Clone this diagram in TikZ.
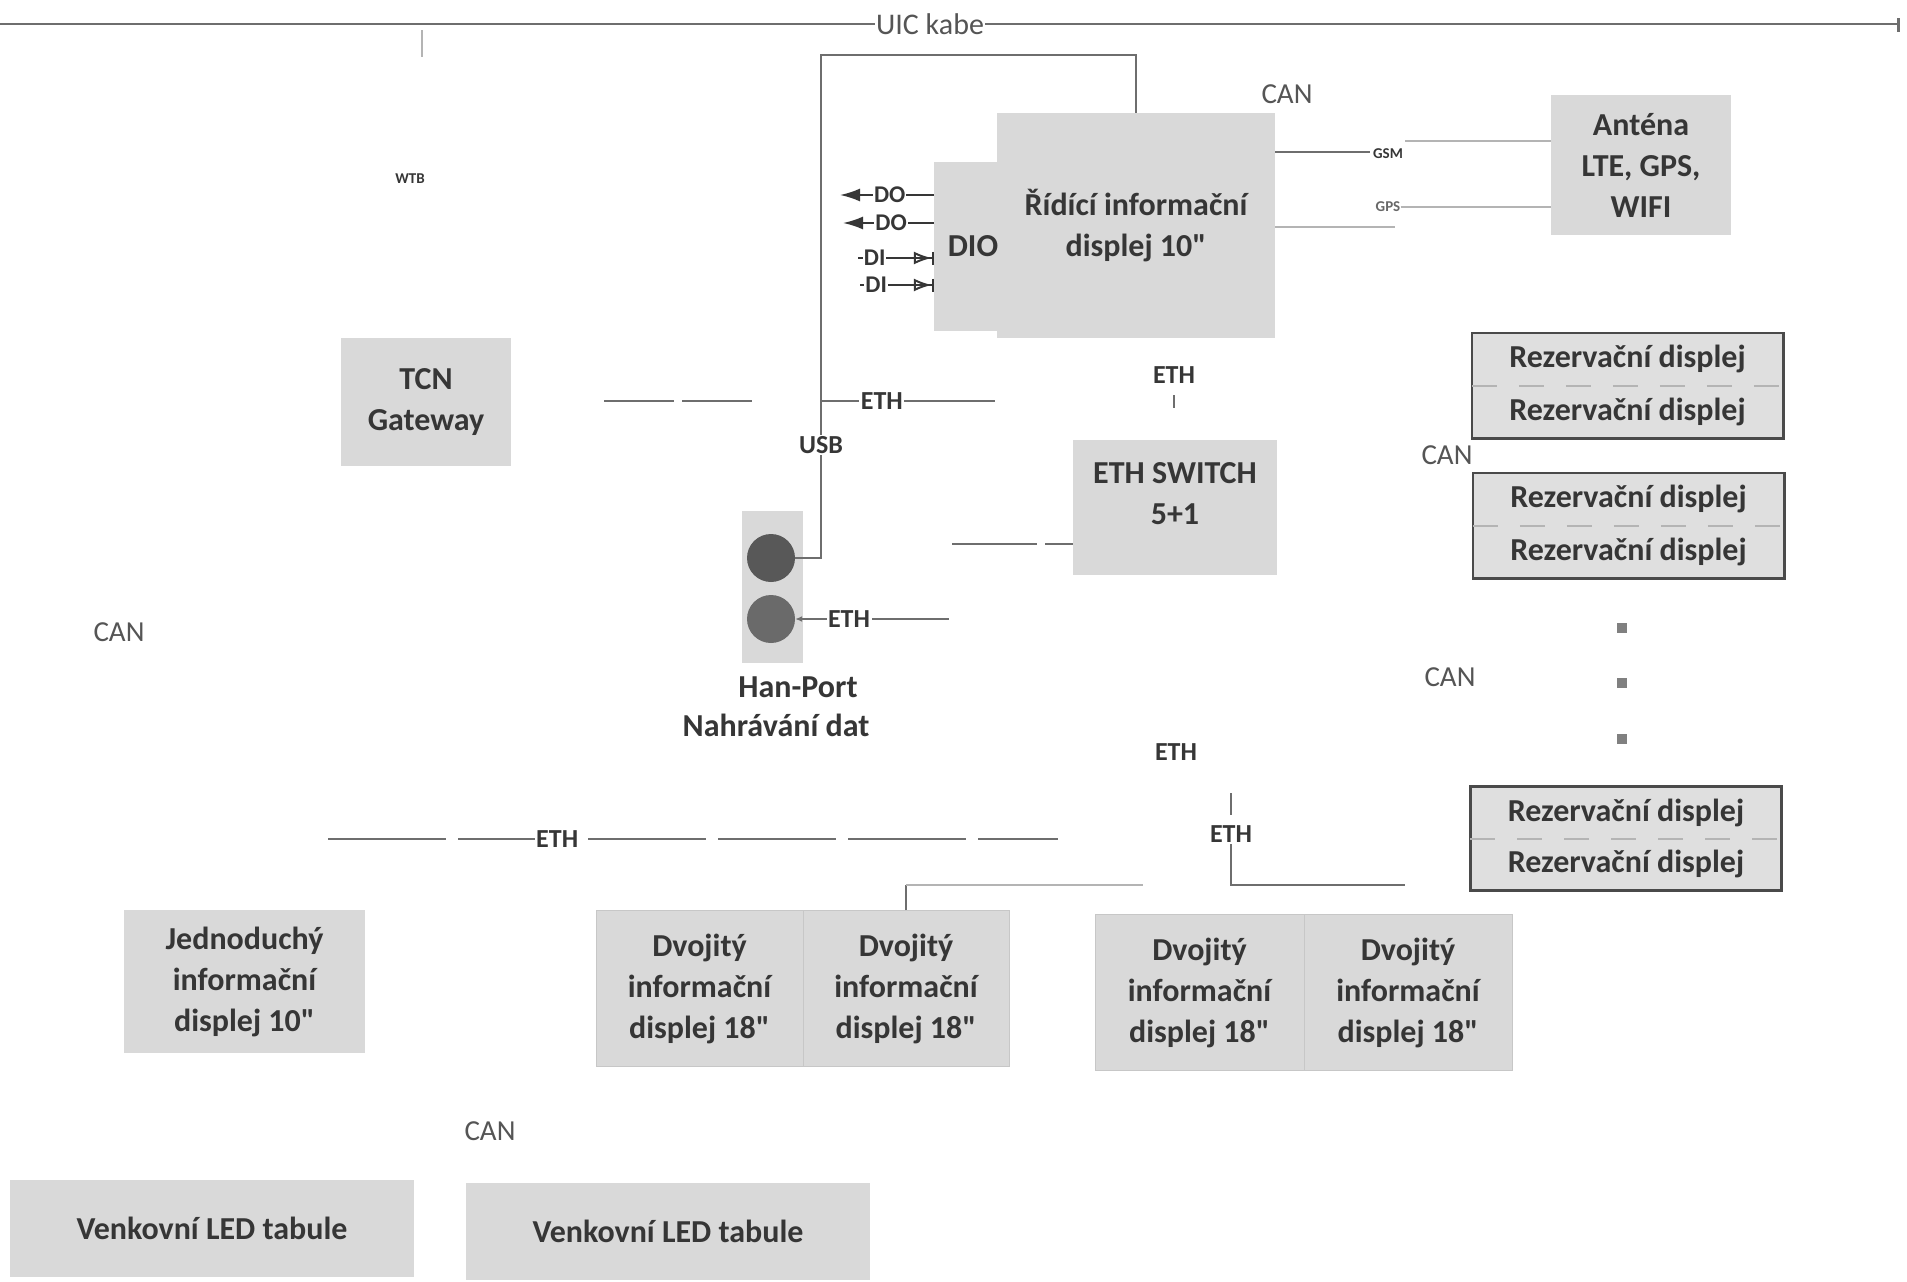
\documentclass[tikz,border=0pt]{standalone}
\usepackage{fontspec}
\setmainfont{Carlito}[Ligatures=TeXOff]
\usetikzlibrary{arrows.meta}
\definecolor{boxgray}{HTML}{D9D9D9}
\definecolor{txt}{HTML}{363636}
\definecolor{wiregray}{HTML}{6E6E6E}
\definecolor{faintgray}{HTML}{B4B4B4}
\definecolor{cangray}{HTML}{555555}
\definecolor{hpdark}{HTML}{585858}
\definecolor{hpmid}{HTML}{6A6A6A}
\begin{document}
\begin{tikzpicture}[x=1pt,y=-1pt,
 box/.style={fill=boxgray, text=txt, font=\bfseries\fontsize{32}{41}\selectfont, align=center, inner sep=0pt, anchor=center},
 boxtext/.style={text=txt, font=\bfseries\fontsize{32}{41}\selectfont, align=center, inner sep=0pt},
 dvbox/.style={box, draw=black!22, line width=1pt, minimum height=156pt},
 wire/.style={draw=wiregray, line width=1.6pt},
 iowire/.style={draw=txt, line width=2pt},
 thinwire/.style={draw=wiregray, line width=1.2pt},
 faint/.style={draw=faintgray, line width=1.6pt},
 lbl/.style={fill=white, text=txt, font=\bfseries\fontsize{26}{28}\selectfont, inner sep=1.5pt},
 can/.style={text=cangray, font=\fontsize{29}{32}\selectfont, inner sep=0pt},
 tiny/.style={text=txt, font=\bfseries\fontsize{15}{16}\selectfont, inner sep=0pt},
 io/.style={fill=white, text=txt, font=\bfseries\fontsize{24}{26}\selectfont, inner sep=1pt},
 rez/.style={fill=boxgray!85, text=txt, font=\bfseries\fontsize{32}{36}\selectfont, inner sep=0pt, minimum width=311pt, minimum height=52.5pt},
 rezframe/.style={draw=txt!90, line width=2.6pt},
 dotsq/.style={fill=black!50, minimum size=10pt, inner sep=0pt},
]
\useasboundingbox[fill=white] (0,0) rectangle (1907,1282);

% UIC cable
\coordinate (uicL) at (0,24);
\coordinate (uicR) at (1898,24);
\draw[wire] (uicL) -- node[pos=0.49, fill=white, text=cangray, font=\fontsize{30}{32}\selectfont, inner sep=1pt] (uic) {UIC kabe} (uicR);
\coordinate (uicR1) at (1898,18);
\coordinate (uicR2) at (1898,32);
\draw[wire, line width=3pt] (uicR1) -- (uicR2);
\coordinate (wtbT) at (422,30);
\coordinate (wtbB) at (422,57);
\draw[faint] (wtbT) -- (wtbB);
\node[tiny] (wtb) at (410,179) {WTB};

% Control display and DIO
\node[box, minimum width=278pt, minimum height=225pt] (main) at (1136,225.5) {Řídící informační\\displej 10"};
\node[box, minimum width=78pt, minimum height=169pt] (dio) at (973,246.5) {DIO};

\coordinate (do1) at (840,195);
\coordinate (do2) at (843,223);
\coordinate (di1) at (858,258);
\coordinate (di2) at (860,285);
\draw[iowire, -{Latex[length=20pt,width=13pt]}] (dio.west |- do1) -- node[io,pos=0.47]{DO} (do1);
\draw[iowire, -{Latex[length=20pt,width=13pt]}] (dio.west |- do2) -- node[io,pos=0.47]{DO} (do2);
\draw[iowire, -{Latex[open,length=18pt,width=13pt]Bar[width=13pt]}] (di1) -- node[io,pos=0.22]{DI} (dio.west |- di1);
\draw[iowire, -{Latex[open,length=18pt,width=13pt]Bar[width=13pt]}] (di2) -- node[io,pos=0.22]{DI} (dio.west |- di2);

\node[can] (can1) at (1287,94) {CAN};

% Antenna
\node[box, minimum width=180pt, minimum height=140pt] (ant) at (1641,165) {Anténa\\LTE, GPS,\\WIFI};
\coordinate (gsmA) at (1370,152);
\draw[wire] (main.east |- gsmA) -- (gsmA);
\node[tiny] (gsm) at (1388,154) {GSM};
\coordinate (gsmB) at (1405,141);
\draw[faint] (gsmB) -- (gsmB -| ant.west);
\node[tiny, text=txt!75] (gps) at (1388,207) {GPS};
\draw[faint] (gps.east) -- (gps.east -| ant.west);
\coordinate (gpsA) at (1395,227);
\draw[faint] (main.east |- gpsA) -- (gpsA);

% TCN gateway
\node[box, minimum width=170pt, minimum height=128pt] (tcn) at (426,402) {TCN\\Gateway};

% ETH bus 1 and USB
\coordinate (e1a) at (604,401);
\coordinate (e1b) at (754,401);
\draw[wire, dash pattern=on 70pt off 8pt] (e1a) -- (e1b);
\coordinate (e1c) at (821,401);
\coordinate (e1d) at (995,401);
\draw[wire] (e1c) -- node[lbl, pos=0.35]{ETH} (e1d);
\node[lbl] (usb) at (821,445) {USB};
\coordinate (usbTop) at (821,55);
\draw[thinwire] (usb.north) -- (usbTop) -- (usbTop -| main) -- (main.north);

% Han-Port
\node[fill=boxgray, minimum width=61pt, minimum height=152pt, inner sep=0pt] (hp) at (772.5,587) {};
\node[circle, fill=hpdark, minimum size=48pt, inner sep=0pt] (hp1) at (771,558) {};
\node[circle, fill=hpmid, minimum size=48pt, inner sep=0pt] (hp2) at (771,619) {};
\draw[wire] (usb.south) |- (hp1.east);
\coordinate (hpE) at (949,619);
\draw[wire, {Latex[length=7pt,width=6pt]}-] (hp2.east) -- node[lbl, pos=0.35]{ETH} (hpE);
\node[boxtext] (hpt1) at (798,687) {Han-Port};
\node[boxtext] (hpt2) at (776,725) {Nahrávání dat};

\node[can] (can2) at (119,632) {CAN};

% ETH switch
\node[box, minimum width=204pt, minimum height=135pt] (sw) at (1175,507.5) {};
\node[boxtext] (swt) at (1175,494) {ETH SWITCH\\5+1};
\node[lbl] (ethsw) at (1174,375) {ETH};
\coordinate (t1) at (1174,395);
\coordinate (t2) at (1174,408);
\draw[wire] (t1) -- (t2);
\coordinate (swL) at (952,544);
\draw[wire, dash pattern=on 85pt off 8pt] (swL) -- (swL -| sw.west);

% Reservation displays
\node[rez] (r1a) at (1627.5,359.25) {Rezervační displej};
\node[rez] (r1b) at (1627.5,411.75) {Rezervační displej};
\draw[rezframe] (r1a.north west) rectangle (r1b.south east);
\draw[faint, dash pattern=on 25pt off 22pt] (r1a.south west) -- (r1a.south east);
\node[rez] (r2a) at (1628.5,499.25) {Rezervační displej};
\node[rez] (r2b) at (1628.5,551.75) {Rezervační displej};
\draw[rezframe] (r2a.north west) rectangle (r2b.south east);
\draw[faint, dash pattern=on 25pt off 22pt] (r2a.south west) -- (r2a.south east);
\node[rez] (r3a) at (1626,812.75) {Rezervační displej};
\node[rez] (r3b) at (1626,864.25) {Rezervační displej};
\draw[rezframe] (r3a.north west) rectangle (r3b.south east);
\draw[faint, dash pattern=on 25pt off 22pt] (r3a.south west) -- (r3a.south east);

\node[can] (can3) at (1447,455) {CAN};
\node[can] (can4) at (1450,677) {CAN};
\node[dotsq] (dot1) at (1622,628) {};
\node[dotsq] (dot2) at (1622,683) {};
\node[dotsq] (dot3) at (1622,739) {};

\node[lbl] (eth5) at (1176,752) {ETH};

% bottom ETH bus
\coordinate (b1) at (328,839);
\coordinate (b2) at (1058,839);
\draw[wire, dash pattern=on 118pt off 12pt] (b1) -- node[lbl, pos=0.314]{ETH} (b2);

\coordinate (v1) at (1231,793);
\coordinate (v2) at (1231,815);
\draw[wire] (v1) -- (v2);
\node[lbl] (ethv) at (1231,834) {ETH};
\coordinate (vb) at (1231,885);
\coordinate (ve) at (1405,885);
\draw[wire] (ethv.south) -- (vb) -- (ve);

% bottom displays
\node[box, minimum width=241pt, minimum height=143pt] (jed) at (244.5,981.5) {Jednoduchý\\informační\\displej 10"};
\node[dvbox, minimum width=207pt] (dv1) at (699.5,988.5) {Dvojitý\\informační\\displej 18"};
\node[dvbox, minimum width=206pt] (dv2) at (906,988.5) {Dvojitý\\informační\\displej 18"};
\node[dvbox, minimum width=209pt] (dv3) at (1199.5,992.5) {Dvojitý\\informační\\displej 18"};
\node[dvbox, minimum width=208pt] (dv4) at (1408,992.5) {Dvojitý\\informační\\displej 18"};

\coordinate (d2t) at (906,885);
\coordinate (d2e) at (1143,885);
\draw[wire] (dv2.north) -- (d2t);
\draw[faint] (d2t) -- (d2e);

\node[can] (can5) at (490,1131) {CAN};

\node[box, minimum width=404pt, minimum height=97pt] (led1) at (212,1228.5) {Venkovní LED tabule};
\node[box, minimum width=404pt, minimum height=97pt] (led2) at (668,1231.5) {Venkovní LED tabule};
\end{tikzpicture}
\end{document}
